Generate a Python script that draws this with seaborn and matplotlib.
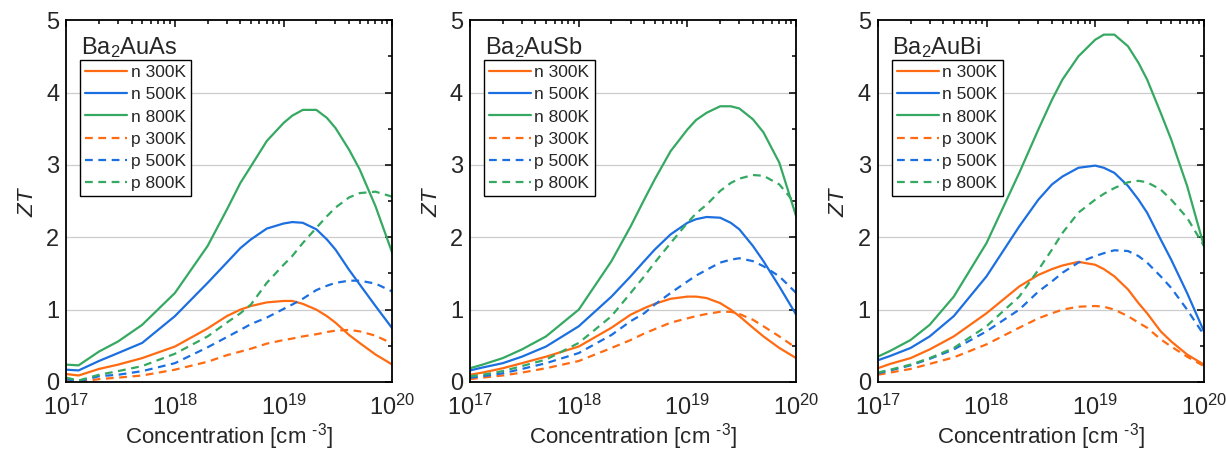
import matplotlib
matplotlib.use('Agg')
import matplotlib.pyplot as plt
from matplotlib.ticker import LogLocator, MultipleLocator, NullFormatter
import numpy as np
import pandas as pd
import seaborn as sns

sns.set_theme(style='white')
plt.rcParams['font.family'] = ['Liberation Sans', 'DejaVu Sans']
plt.rcParams['mathtext.fontset'] = 'custom'
plt.rcParams['mathtext.rm'] = 'Liberation Sans'
plt.rcParams['mathtext.it'] = 'Liberation Sans:italic'

# キャリア濃度 (cm^-3)
conc = [1e17, 1.3e17, 2e17, 3e17, 5e17, 1e18, 2e18, 3e18, 4e18, 5e18, 7e18,
        1e19, 1.2e19, 1.5e19, 2e19, 2.5e19, 3e19, 4e19, 5e19, 7e19, 1e20]

series_labels = ['n 300K', 'n 500K', 'n 800K', 'p 300K', 'p 500K', 'p 800K']
compounds = ['Ba$_2$AuAs', 'Ba$_2$AuSb', 'Ba$_2$AuBi']

# Ba2AuAs
as_n300 = [0.11, 0.09, 0.18, 0.24, 0.33, 0.49, 0.74, 0.91, 1.00, 1.05, 1.10, 1.12, 1.12, 1.08, 1.00, 0.91, 0.82, 0.65, 0.54, 0.38, 0.24]
as_n500 = [0.17, 0.16, 0.29, 0.40, 0.54, 0.91, 1.37, 1.65, 1.85, 1.97, 2.12, 2.19, 2.21, 2.20, 2.11, 1.97, 1.83, 1.55, 1.35, 1.05, 0.74]
as_n800 = [0.24, 0.23, 0.42, 0.56, 0.79, 1.23, 1.88, 2.38, 2.75, 2.98, 3.33, 3.58, 3.68, 3.76, 3.76, 3.65, 3.51, 3.21, 2.94, 2.43, 1.78]
as_p300 = [0.02, 0.00, 0.04, 0.06, 0.09, 0.17, 0.28, 0.37, 0.42, 0.46, 0.53, 0.58, 0.60, 0.63, 0.66, 0.69, 0.71, 0.72, 0.70, 0.64, 0.53]
as_p500 = [0.04, 0.01, 0.08, 0.10, 0.15, 0.26, 0.48, 0.62, 0.72, 0.80, 0.89, 1.01, 1.07, 1.15, 1.27, 1.33, 1.37, 1.40, 1.40, 1.36, 1.25]
as_p800 = [0.06, 0.02, 0.10, 0.15, 0.22, 0.39, 0.63, 0.82, 0.95, 1.07, 1.37, 1.62, 1.74, 1.92, 2.13, 2.29, 2.41, 2.55, 2.61, 2.63, 2.56]

# Ba2AuSb
sb_n300 = [0.10, 0.13, 0.19, 0.26, 0.35, 0.49, 0.75, 0.93, 1.02, 1.08, 1.15, 1.18, 1.18, 1.16, 1.09, 1.00, 0.91, 0.75, 0.63, 0.47, 0.33]
sb_n500 = [0.16, 0.20, 0.26, 0.35, 0.49, 0.77, 1.18, 1.46, 1.67, 1.83, 2.04, 2.20, 2.25, 2.28, 2.27, 2.20, 2.11, 1.88, 1.67, 1.32, 0.93]
sb_n800 = [0.19, 0.24, 0.33, 0.45, 0.63, 1.00, 1.67, 2.15, 2.52, 2.80, 3.19, 3.49, 3.62, 3.72, 3.81, 3.81, 3.78, 3.63, 3.45, 3.03, 2.29]
sb_p300 = [0.04, 0.06, 0.09, 0.13, 0.19, 0.29, 0.47, 0.58, 0.67, 0.73, 0.82, 0.88, 0.91, 0.94, 0.97, 0.97, 0.94, 0.86, 0.77, 0.63, 0.47]
sb_p500 = [0.06, 0.08, 0.12, 0.18, 0.26, 0.40, 0.65, 0.84, 0.95, 1.07, 1.23, 1.39, 1.47, 1.55, 1.65, 1.69, 1.71, 1.67, 1.60, 1.46, 1.23]
sb_p800 = [0.08, 0.10, 0.15, 0.22, 0.31, 0.54, 0.91, 1.23, 1.46, 1.65, 1.92, 2.20, 2.33, 2.45, 2.64, 2.75, 2.81, 2.86, 2.85, 2.73, 2.45]

# Ba2AuBi
bi_n300 = [0.19, 0.25, 0.33, 0.45, 0.63, 0.95, 1.32, 1.48, 1.56, 1.61, 1.66, 1.62, 1.56, 1.46, 1.28, 1.09, 0.95, 0.70, 0.56, 0.38, 0.24]
bi_n500 = [0.30, 0.36, 0.47, 0.63, 0.91, 1.46, 2.15, 2.52, 2.73, 2.84, 2.96, 2.99, 2.96, 2.89, 2.71, 2.52, 2.34, 1.97, 1.69, 1.23, 0.70]
bi_n800 = [0.35, 0.43, 0.58, 0.79, 1.18, 1.92, 2.89, 3.49, 3.90, 4.18, 4.50, 4.73, 4.80, 4.80, 4.64, 4.41, 4.18, 3.72, 3.35, 2.71, 1.88]
bi_p300 = [0.10, 0.13, 0.18, 0.25, 0.34, 0.52, 0.75, 0.88, 0.95, 1.00, 1.04, 1.05, 1.04, 1.00, 0.91, 0.82, 0.75, 0.59, 0.49, 0.35, 0.22]
bi_p500 = [0.12, 0.16, 0.23, 0.32, 0.45, 0.70, 1.00, 1.25, 1.39, 1.51, 1.65, 1.74, 1.78, 1.82, 1.81, 1.74, 1.65, 1.46, 1.30, 1.00, 0.65]
bi_p800 = [0.13, 0.17, 0.24, 0.33, 0.47, 0.77, 1.18, 1.55, 1.83, 2.06, 2.34, 2.52, 2.60, 2.68, 2.76, 2.78, 2.76, 2.66, 2.52, 2.27, 1.88]

panels = [
    [as_n300, as_n500, as_n800, as_p300, as_p500, as_p800],
    [sb_n300, sb_n500, sb_n800, sb_p300, sb_p500, sb_p800],
    [bi_n300, bi_n500, bi_n800, bi_p300, bi_p500, bi_p800],
]

colors = ['#FF6B12', '#1C6FE0', '#35A962'] * 2
dashes = ['-', '-', '-', (0, (3.5, 2.5)), (0, (3.5, 2.5)), (0, (3.5, 2.5))]

fig = plt.figure(figsize=(12.26, 4.54), dpi=100)
lefts = [0.054, 0.3834, 0.716]

for i, (name, data) in enumerate(zip(compounds, panels)):
    ax = fig.add_axes([lefts[i], 0.1586, 0.266, 0.797])
    for lab, ys, c, ls in zip(series_labels, data, colors, dashes):
        df = pd.DataFrame({'conc': conc, 'ZT': ys})
        sns.lineplot(data=df, x='conc', y='ZT', ax=ax, color=c,
                     linestyle=ls, linewidth=1.6, label=lab)

    ax.set_xscale('log')
    ax.set_xlim(1e17, 1e20)
    ax.set_ylim(0, 5)
    ax.xaxis.set_major_locator(LogLocator(base=10, numticks=10))
    ax.xaxis.set_minor_locator(LogLocator(base=10, subs=np.arange(2, 10), numticks=10))
    ax.xaxis.set_minor_formatter(NullFormatter())
    ax.yaxis.set_major_locator(MultipleLocator(1))
    ax.yaxis.set_minor_locator(MultipleLocator(0.5))

    # 横グリッド
    for yv in [1, 2, 3, 4]:
        ax.axhline(yv, color='#CCCCCC', linewidth=0.9, zorder=0)

    ax.tick_params(which='both', direction='in', top=True, right=True,
                   color='black', width=1.1)
    ax.tick_params(which='major', length=5, labelsize=17)
    ax.tick_params(axis='x', which='major', pad=9)
    ax.tick_params(axis='y', which='major', pad=5)
    ax.tick_params(which='minor', length=2.8)
    for sp in ax.spines.values():
        sp.set_color('black')
        sp.set_linewidth(1.3)

    ax.set_xlabel('Concentration [cm $^{\\text{-3}}$]', fontsize=16, labelpad=1)
    ax.set_ylabel('$ZT$', fontsize=16, labelpad=6)

    ax.text(0.045, 0.925, name, transform=ax.transAxes, fontsize=17,
            va='center', ha='left')

    leg = ax.legend(loc='upper left', bbox_to_anchor=(0.043, 0.89),
                    fontsize=12.5, frameon=True, fancybox=False,
                    edgecolor='black', framealpha=1, handlelength=2.4,
                    handletextpad=0.2, labelspacing=0.4, borderpad=0.3,
                    borderaxespad=0)
    leg.get_frame().set_linewidth(1.0)

fig.savefig('out.png', dpi=100)
